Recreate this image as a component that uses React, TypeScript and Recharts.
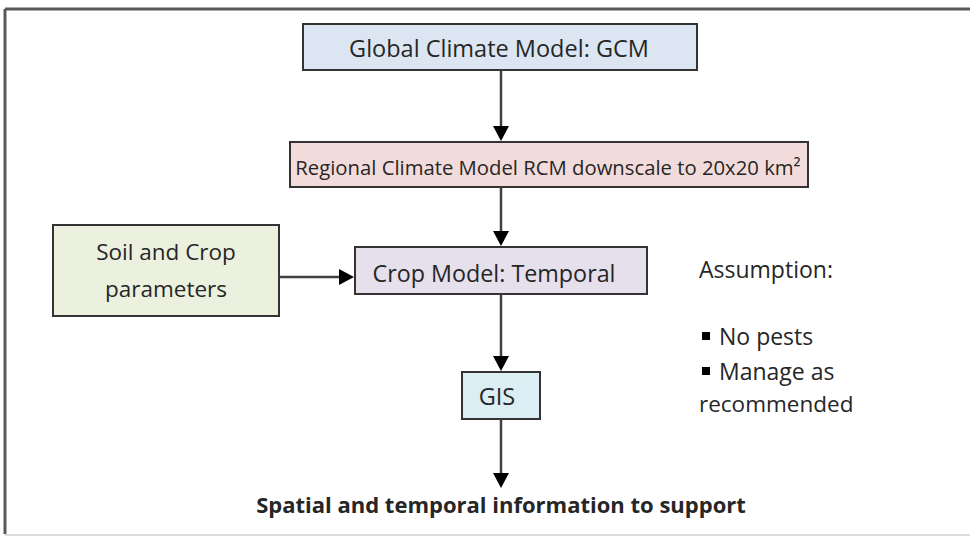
import React from "react";
import { ComposedChart, XAxis, YAxis, ReferenceArea, ReferenceLine, ReferenceDot } from "recharts";

// flowchart content
const boxLabels = [
  "Global Climate Model: GCM",
  "Regional Climate Model RCM downscale to 20x20 km²",
  "Crop Model: Temporal",
  "GIS",
];
const soilLabels = ["Soil and Crop", "parameters"];
const assumptionTitle = "Assumption:";
const assumptionItems = ["No pests", "Manage as"];
const assumptionTail = "recommended";
const outputLabel = "Spatial and temporal information to support";

// layout in pixel units of the 970x536 canvas
const W = 970;
const H = 536;
const FONT = "'Open Sans', Calibri, sans-serif";
const TEXT = "#262626";

const boxes = [
  { x1: 303, x2: 697, y1: 24, y2: 70, fill: "#dce6f2", tx: 499, ty: 57, size: 23.5 },
  { x1: 290, x2: 808, y1: 142, y2: 187, fill: "#f2dcdb", tx: 548, ty: 175, size: 20.3 },
  { x1: 355, x2: 647, y1: 247, y2: 294, fill: "#e5e0ec", tx: 494, ty: 282, size: 23.3 },
  { x1: 462, x2: 540, y1: 372, y2: 419, fill: "#dbeef4", tx: 497, ty: 405, size: 23.5 },
];
const soilBox = { x1: 53, x2: 279, y1: 225, y2: 316, fill: "#ebf1de" };

const arrows = [
  [501, 70, 501, 141],
  [501, 187, 501, 246],
  [279, 277, 354, 277],
  [501, 294, 501, 371],
  [501, 419, 501, 488],
];

const Arrow = (p: any) => {
  const { x1, y1, x2, y2 } = p;
  const dx = x2 - x1;
  const dy = y2 - y1;
  const len = Math.sqrt(dx * dx + dy * dy) || 1;
  const ux = dx / len;
  const uy = dy / len;
  const hl = 15;
  const hw = 8;
  const bx = x2 - ux * hl;
  const by = y2 - uy * hl;
  return (
    <g>
      <line x1={x1} y1={y1} x2={bx} y2={by} stroke="#404040" strokeWidth={2.5} />
      <path
        d={`M${x2},${y2} L${bx - uy * hw},${by + ux * hw} L${bx + uy * hw},${by - ux * hw} Z`}
        fill="#000"
      />
    </g>
  );
};

const label = (text: string, size: number, anchor: string, weight = 400) => (p: any) => (
  <text
    x={p.cx}
    y={p.cy}
    textAnchor={anchor}
    fontFamily={FONT}
    fontSize={size}
    fontWeight={weight}
    fill={TEXT}
  >
    {text}
  </text>
);

const bullet = (p: any) => <rect x={p.cx} y={p.cy - 13} width={8} height={8} fill="#000" />;

export default function App() {
  return (
    <div style={{ position: "absolute", left: 0, top: 0, width: W, height: H, background: "#fff" }}>
      <ComposedChart width={W} height={H} data={[{ x: 0, y: 0 }]} margin={{ top: 0, right: 0, bottom: 0, left: 0 }}>
        <XAxis type="number" dataKey="x" domain={[0, W]} hide allowDataOverflow />
        <YAxis type="number" dataKey="y" domain={[0, H]} reversed hide allowDataOverflow />

        {/* outer frame */}
        <ReferenceLine segment={[{ x: 5, y: 9 }, { x: W, y: 9 }]} stroke="#595959" strokeWidth={3} ifOverflow="visible" />
        <ReferenceLine segment={[{ x: 5, y: 9 }, { x: 5, y: 534 }]} stroke="#595959" strokeWidth={3} ifOverflow="visible" />
        <ReferenceLine segment={[{ x: 5, y: 535 }, { x: W, y: 535 }]} stroke="#dddddd" strokeWidth={2} ifOverflow="visible" />

        {boxes.map((b, i) => (
          <ReferenceArea key={`b${i}`} x1={b.x1} x2={b.x2} y1={b.y1} y2={b.y2} fill={b.fill} fillOpacity={1} stroke="#333333" strokeWidth={2} ifOverflow="visible" />
        ))}
        <ReferenceArea x1={soilBox.x1} x2={soilBox.x2} y1={soilBox.y1} y2={soilBox.y2} fill={soilBox.fill} fillOpacity={1} stroke="#333333" strokeWidth={2} ifOverflow="visible" />

        {arrows.map((a, i) => (
          <ReferenceLine key={`a${i}`} segment={[{ x: a[0], y: a[1] }, { x: a[2], y: a[3] }]} shape={Arrow} ifOverflow="visible" />
        ))}

        {boxLabels.map((t, i) => (
          <ReferenceDot key={`t${i}`} x={boxes[i].tx} y={boxes[i].ty} r={0} shape={label(t, boxes[i].size, "middle")} ifOverflow="visible" />
        ))}
        {soilLabels.map((t, i) => (
          <ReferenceDot key={`s${i}`} x={166} y={260 + i * 37} r={0} shape={label(t, 22.5, "middle")} ifOverflow="visible" />
        ))}

        <ReferenceDot x={699} y={278} r={0} shape={label(assumptionTitle, 23, "start")} ifOverflow="visible" />
        {assumptionItems.map((t, i) => (
          <React.Fragment key={`m${i}`}>
            <ReferenceDot x={702} y={345 + i * 35} r={0} shape={bullet} ifOverflow="visible" />
            <ReferenceDot x={719} y={345 + i * 35} r={0} shape={label(t, 23, "start")} ifOverflow="visible" />
          </React.Fragment>
        ))}
        <ReferenceDot x={699} y={412} r={0} shape={label(assumptionTail, 22.5, "start")} ifOverflow="visible" />

        <ReferenceDot x={501} y={513} r={0} shape={label(outputLabel, 22, "middle", 700)} ifOverflow="visible" />
      </ComposedChart>
    </div>
  );
}
